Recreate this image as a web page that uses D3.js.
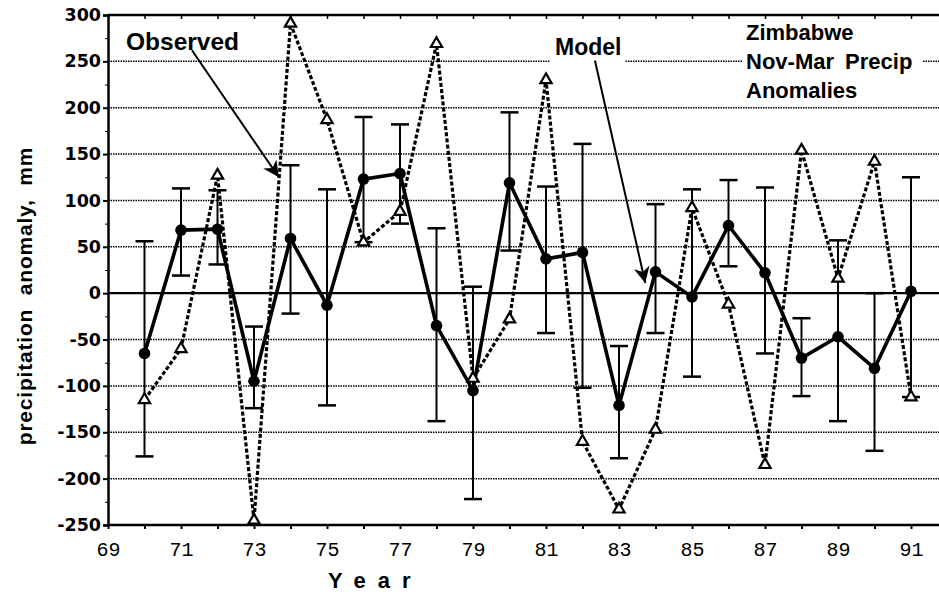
<!DOCTYPE html>
<html>
<head>
<meta charset="utf-8">
<script src="https://cdn.jsdelivr.net/npm/d3@7"></script>
<style>
  body { margin: 0; background: #fff; }
  svg { display: block; }
</style>
</head>
<body>
<svg width="939" height="592"></svg>
<script>
const years = [70, 71, 72, 73, 74, 75, 76, 77, 78, 79, 80, 81, 82, 83, 84, 85, 86, 87, 88, 89, 90, 91];

const model = [-65, 68, 69, -95, 59, -13, 123, 129, -35, -105, 119, 37, 44, -121, 23, -4, 73, 22, -70, -47, -81, 2];
const modelHi = [56, 113, 111, -36, 138, 112, 190, 182, 70, 7, 195, 115, 161, -57, 96, 112, 122, 114, -27, 57, 0, 125];
const modelLo = [-176, 19, 31, -124, -22, -121, 55, 75, -138, -222, 46, -43, -102, -178, -43, -90, 29, -65, -111, -138, -170, -112];

const observed = [-115, -60, 127, -245, 291, 187, 55, 88, 269, -92, -28, 230, -160, -233, -147, 92, -12, -185, 154, 16, 142, -112];

const yTicks = [300, 250, 200, 150, 100, 50, 0, -50, -100, -150, -200, -250];
const xTickLabels = [69, 71, 73, 75, 77, 79, 81, 83, 85, 87, 89, 91];

const titleLines = ["Zimbabwe", "Nov-Mar Precip", "Anomalies"];

// arrows drawn in data coords: [year, value] start -> end
const arrows = [
  {label: "Observed", from: [71.3, 262], to: [73.68, 125]},
  {label: "Model", from: [82.34, 251], to: [83.72, 11]}
];

const svg = d3.select("svg");

const x = d3.scaleLinear().domain([69, 92]).range([108, 947.5]);
const y = d3.scaleLinear().domain([-250, 300]).range([525, 15]);

const sans = "'Liberation Sans', Arial, Helvetica, sans-serif";

// gridlines
svg.append("g")
  .selectAll("line")
  .data(yTicks.filter(d => d !== 0 && d !== 300 && d !== -250))
  .join("line")
  .attr("x1", x(69)).attr("x2", 939)
  .attr("y1", d => y(d)).attr("y2", d => y(d))
  .attr("stroke", "#000")
  .attr("stroke-width", 1.5)
  .attr("stroke-dasharray", "1.5,1");

// zero line
svg.append("line")
  .attr("x1", x(69)).attr("x2", 939)
  .attr("y1", y(0)).attr("y2", y(0))
  .attr("stroke", "#000").attr("stroke-width", 2.2);

// label backgrounds
svg.append("rect").attr("x", 550).attr("y", 30).attr("width", 75).attr("height", 40).attr("fill", "#fff");
svg.append("rect").attr("x", 742).attr("y", 18).attr("width", 180).attr("height", 82).attr("fill", "#fff");

// axes
const leftAxis = svg.append("g").attr("transform", `translate(${x(69)},0)`)
  .call(d3.axisLeft(y).tickValues(yTicks).tickSize(5).tickFormat(d => String(d)));
leftAxis.select(".domain").attr("stroke-width", 2.5);
leftAxis.selectAll(".tick line").attr("stroke-width", 2);
leftAxis.selectAll(".tick text")
  .attr("font-family", "'DejaVu Sans', sans-serif")
  .attr("font-size", 17.5)
  .attr("font-weight", "bold")
  .attr("x", -7);

svg.append("g").attr("transform", `translate(${x(69)},0)`)
  .call(d3.axisLeft(y).tickValues(d3.range(-225, 300, 50)).tickSize(3).tickFormat(""))
  .call(g => g.select(".domain").remove());

const bottomAxis = svg.append("g").attr("transform", `translate(0,${y(-250)})`)
  .call(d3.axisBottom(x).tickValues(d3.range(69, 93)).tickSize(4)
    .tickFormat(d => xTickLabels.includes(d) ? d : ""));
bottomAxis.select(".domain").attr("stroke-width", 2.5).attr("d", `M${x(69)},0H939`);
bottomAxis.selectAll(".tick line").attr("stroke-width", 2);
bottomAxis.selectAll(".tick text")
  .attr("font-family", "'Liberation Mono', 'DejaVu Sans Mono', monospace")
  .attr("font-size", 20)
  .attr("y", 17);

const topAxis = svg.append("g").attr("transform", `translate(0,${y(300)})`)
  .call(d3.axisBottom(x).tickValues(d3.range(69, 93)).tickSize(4).tickFormat(""));
topAxis.select(".domain").attr("stroke-width", 2.5).attr("d", `M${x(69)},0H939`);
topAxis.selectAll(".tick line").attr("stroke-width", 1.5);

// observed series
const line = d3.line().x((d, i) => x(years[i])).y(d => y(d));
svg.append("path")
  .attr("d", line(observed))
  .attr("fill", "none")
  .attr("stroke", "#000")
  .attr("stroke-width", 3.2)
  .attr("stroke-dasharray", "4,2.2");

// error bars
const eb = svg.append("g").attr("stroke", "#000").attr("stroke-width", 2);
years.forEach((yr, i) => {
  eb.append("line").attr("x1", x(yr)).attr("x2", x(yr)).attr("y1", y(modelHi[i])).attr("y2", y(modelLo[i]));
  eb.append("line").attr("x1", x(yr) - 9).attr("x2", x(yr) + 9).attr("y1", y(modelHi[i])).attr("y2", y(modelHi[i])).attr("stroke-width", 2.5);
  eb.append("line").attr("x1", x(yr) - 9).attr("x2", x(yr) + 9).attr("y1", y(modelLo[i])).attr("y2", y(modelLo[i])).attr("stroke-width", 2.5);
});

// model series
svg.append("path")
  .attr("d", line(model))
  .attr("fill", "none")
  .attr("stroke", "#000")
  .attr("stroke-width", 3.6);

svg.append("g")
  .selectAll("circle")
  .data(model)
  .join("circle")
  .attr("cx", (d, i) => x(years[i]))
  .attr("cy", d => y(d))
  .attr("r", 5.8)
  .attr("fill", "#000");

const tri = d3.symbol().type(d3.symbolTriangle).size(55);
svg.append("g")
  .selectAll("path")
  .data(observed)
  .join("path")
  .attr("transform", (d, i) => `translate(${x(years[i])},${y(d)})`)
  .attr("d", tri)
  .attr("fill", "#fff")
  .attr("stroke", "#000")
  .attr("stroke-width", 2.2);

// arrows
svg.append("defs").append("marker")
  .attr("id", "head")
  .attr("viewBox", "0 0 10 10")
  .attr("refX", 10).attr("refY", 5)
  .attr("markerWidth", 9).attr("markerHeight", 8)
  .attr("markerUnits", "strokeWidth")
  .attr("orient", "auto")
  .append("path").attr("d", "M0,0L10,5L0,10L3,5Z").attr("fill", "#000");

svg.append("g")
  .selectAll("line")
  .data(arrows)
  .join("line")
  .attr("x1", d => x(d.from[0])).attr("y1", d => y(d.from[1]))
  .attr("x2", d => x(d.to[0])).attr("y2", d => y(d.to[1]))
  .attr("stroke", "#000")
  .attr("stroke-width", 2)
  .attr("marker-end", "url(#head)");

// annotation labels
svg.append("text").attr("x", 126).attr("y", 50)
  .attr("font-family", sans).attr("font-weight", "bold").attr("font-size", 24.5)
  .text("Observed");
svg.append("text").attr("x", 555).attr("y", 55)
  .attr("font-family", sans).attr("font-weight", "bold").attr("font-size", 23)
  .text("Model");

svg.append("g")
  .selectAll("text")
  .data(titleLines)
  .join("text")
  .attr("x", 746)
  .attr("y", (d, i) => 40 + i * 29)
  .attr("font-family", sans).attr("font-weight", "bold").attr("font-size", 22)
  .attr("word-spacing", 5)
  .text(d => d);

// axis titles
svg.append("text")
  .attr("transform", `translate(32,296) rotate(-90)`)
  .attr("text-anchor", "middle")
  .attr("font-family", sans).attr("font-weight", "bold").attr("font-size", 21)
  .attr("letter-spacing", 0.8)
  .attr("word-spacing", 7)
  .text("precipitation anomaly, mm");

svg.append("text")
  .attr("x", 328).attr("y", 588)
  .attr("font-family", sans).attr("font-weight", "bold").attr("font-size", 22)
  .attr("letter-spacing", 12)
  .text("Year");
</script>
</body>
</html>
